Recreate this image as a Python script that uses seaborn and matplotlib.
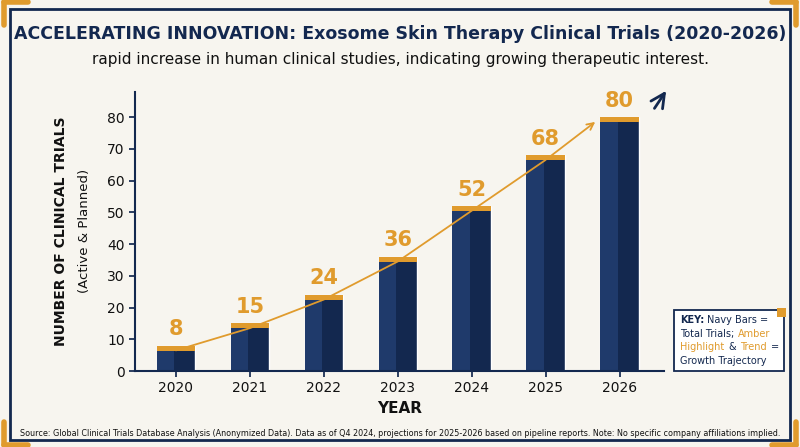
import matplotlib.pyplot as plt
import matplotlib.patches as mpatches
from matplotlib.offsetbox import TextArea, HPacker, VPacker, AnchoredOffsetbox
import seaborn as sns
import pandas as pd
import numpy as np

years = ["2020", "2021", "2022", "2023", "2024", "2025", "2026"]
trials = [8, 15, 24, 36, 52, 68, 80]

NAVY = "#13284f"
AMBER = "#e09b2d"
BG = "#f7f5ef"

sns.set_theme(style="white")
plt.rcParams["font.family"] = ["DejaVu Sans"]

df = pd.DataFrame({"year": years, "trials": trials})

fig = plt.figure(figsize=(8, 4.47), dpi=100, facecolor=BG)
ax = fig.add_axes([0.169, 0.17, 0.661, 0.625])
ax.set_facecolor(BG)

sns.barplot(data=df, x="year", y="trials", color=NAVY, width=0.52, saturation=1, ax=ax)
for i, p in enumerate(list(ax.patches)):
    x0, w, h = p.get_x(), p.get_width(), p.get_height()
    ax.add_patch(mpatches.Rectangle((x0, 0), w * 0.45, h, color="#1f3a6b", zorder=2.5, lw=0))
    ax.add_patch(mpatches.Rectangle((x0, h - 1.6), w, 1.6, color=AMBER, zorder=3, lw=0))
    ax.text(x0 + w / 2, h + 2.0, str(trials[i]), ha="center", va="bottom",
            color=AMBER, fontsize=15, fontweight="bold", zorder=4)

# trend arrow
xs = np.arange(len(trials))
ax.plot(xs[:-1], [t - 1.5 for t in trials[:-1]], color=AMBER, lw=1.3, zorder=5)
ax.annotate("", xy=(xs[-1] - 0.3, trials[-1] - 1), xytext=(xs[-2], trials[-2] - 1.5),
            arrowprops=dict(arrowstyle="->", color=AMBER, lw=1.3), zorder=5)
ax.annotate("", xy=(6.65, 89), xytext=(6.45, 82),
            arrowprops=dict(arrowstyle="->", color=NAVY, lw=2, mutation_scale=25),
            annotation_clip=False)

ax.set_ylim(0, 88)
ax.set_yticks(range(0, 81, 10))
ax.set_xlim(-0.55, 6.6)
for s in ["top", "right"]:
    ax.spines[s].set_visible(False)
for s in ["left", "bottom"]:
    ax.spines[s].set_color(NAVY)
    ax.spines[s].set_linewidth(1.5)
ax.tick_params(axis="both", colors="#111111", labelsize=10, length=4, color=NAVY, bottom=True, left=True)
ax.set_xlabel("YEAR", fontsize=11, fontweight="bold", color="#111111")
ax.set_ylabel("NUMBER OF CLINICAL TRIALS", fontsize=10, fontweight="bold", color="#111111", labelpad=28)
ax.text(-0.095, 0.5, "(Active & Planned)", transform=ax.transAxes, rotation=90,
        ha="center", va="center", fontsize=9.5, color="#111111")

fig.text(0.5, 0.925, "ACCELERATING INNOVATION: Exosome Skin Therapy Clinical Trials (2020-2026)",
         ha="center", va="center", fontsize=12.5, fontweight="bold", color=NAVY)
fig.text(0.5, 0.868, "rapid increase in human clinical studies, indicating growing therapeutic interest.",
         ha="center", va="center", fontsize=11, color="#111111")
fig.text(0.5, 0.03, "Source: Global Clinical Trials Database Analysis (Anonymized Data). Data as of Q4 2024, "
         "projections for 2025-2026 based on pipeline reports. Note: No specific company affiliations implied.",
         ha="center", va="center", fontsize=5.8, color="#111111")

# key box
def t(s, c=NAVY, bold=False):
    return TextArea(s, textprops=dict(color=c, fontsize=7, fontweight="bold" if bold else "normal"))

rows = [
    HPacker(children=[t("KEY:", bold=True), t("Navy Bars =")], pad=0, sep=2),
    HPacker(children=[t("Total Trials;"), t("Amber", AMBER)], pad=0, sep=3),
    HPacker(children=[t("Highlight", AMBER), t("&"), t("Trend", AMBER), t("=")], pad=0, sep=3),
    HPacker(children=[t("Growth Trajectory")], pad=0, sep=0),
]
box = AnchoredOffsetbox(loc="lower left", child=VPacker(children=rows, pad=0, sep=2.5),
                        bbox_to_anchor=(0.843, 0.17), bbox_transform=fig.transFigure,
                        frameon=True, pad=0.35, borderpad=0)
box.patch.set_facecolor("white")
box.patch.set_edgecolor(NAVY)
box.patch.set_linewidth(1.3)
box.patch.set_boxstyle("square,pad=0")
fig.add_artist(box)
fig.patches.append(mpatches.Rectangle((0.971, 0.29), 0.011, 0.022, transform=fig.transFigure,
                                      facecolor=AMBER, lw=0, zorder=10))

# frame and corners
fig.patches.append(mpatches.Rectangle((0.012, 0.015), 0.976, 0.965, transform=fig.transFigure,
                                      fill=False, edgecolor=NAVY, lw=2))
for cx, cy, dx, dy in [(0.005, 0.995, 1, -1), (0.995, 0.995, -1, -1), (0.005, 0.005, 1, 1), (0.995, 0.005, -1, 1)]:
    fig.add_artist(plt.Line2D([cx, cx + dx * 0.03], [cy, cy], color=AMBER, lw=4, transform=fig.transFigure))
    fig.add_artist(plt.Line2D([cx, cx], [cy, cy + dy * 0.05], color=AMBER, lw=4, transform=fig.transFigure))

fig.savefig("out.png", dpi=100, facecolor=BG)
